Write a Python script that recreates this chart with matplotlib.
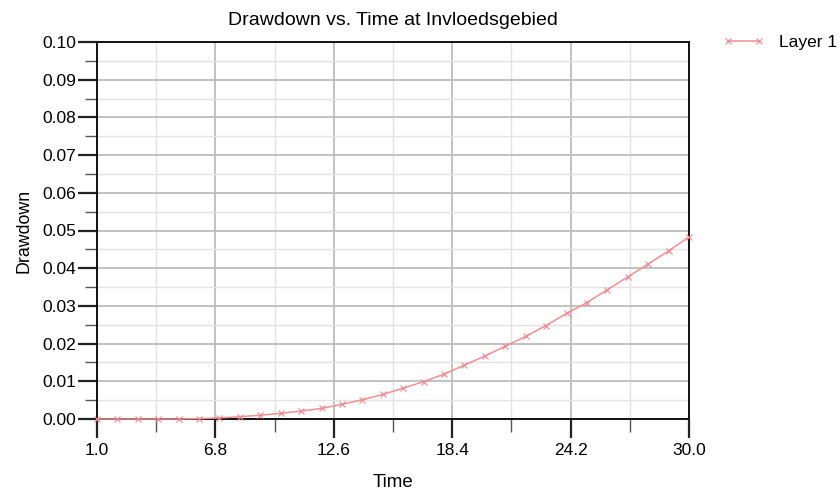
import matplotlib
matplotlib.use("Agg")
import matplotlib.pyplot as plt
from matplotlib.ticker import MultipleLocator, FixedLocator, FormatStrFormatter

plt.rcParams['font.family'] = ['Liberation Sans', 'DejaVu Sans']

time = list(range(1, 31))
drawdown = [0.0, 0.0, 0.0, 0.0, 0.0, 0.0001, 0.0003, 0.0006, 0.0010, 0.0015,
            0.0021, 0.0028, 0.0039, 0.0051, 0.0065, 0.0082, 0.0099, 0.0119,
            0.0143, 0.0167, 0.0193, 0.0219, 0.0248, 0.0280, 0.0309, 0.0343,
            0.0377, 0.0411, 0.0446, 0.0483]
x_major = [1.0, 6.8, 12.6, 18.4, 24.2, 30.0]
x_minor = [3.9, 9.7, 15.5, 21.3, 27.1]

fig = plt.figure(figsize=(8.4, 4.93), dpi=100)
ax = fig.add_axes([97/840, 1-419/493, (689-97)/840, (419-42)/493])

ax.plot(time, drawdown, color='#f29090', lw=1.1, marker='x', ms=4.0,
        mew=0.8, mec='#ec8894', label='Layer 1', zorder=3, clip_on=False)

ax.set_xlim(1, 30)
ax.set_ylim(0, 0.10)
ax.xaxis.set_major_locator(FixedLocator(x_major))
ax.xaxis.set_minor_locator(FixedLocator(x_minor))
ax.xaxis.set_major_formatter(FormatStrFormatter('%.1f'))
ax.yaxis.set_major_locator(MultipleLocator(0.01))
ax.yaxis.set_minor_locator(MultipleLocator(0.005))
ax.yaxis.set_major_formatter(FormatStrFormatter('%.2f'))

ax.grid(which='major', color='#bdbdbd', lw=1.3)
ax.grid(which='minor', color='#e3e3e3', lw=1.0)
ax.set_axisbelow(True)

ax.tick_params(which='major', length=14, width=1.6, color='#222222',
               labelsize=12.5, pad=1)
ax.tick_params(which='minor', length=9, width=1.0, color='#555555')
ax.tick_params(axis='x', which='major', pad=3)
for s in ax.spines.values():
    s.set_color('#111111')
    s.set_linewidth(1.4)

ax.set_title('Drawdown vs. Time at Invloedsgebied', fontsize=14, pad=12)
ax.set_xlabel('Time', fontsize=13.5, labelpad=12)
ax.set_ylabel('Drawdown', fontsize=12.8, labelpad=7)

fig.legend(*ax.get_legend_handles_labels(), loc='center left',
           bbox_to_anchor=(723/840, 1-42/493), frameon=False,
           borderaxespad=0, borderpad=0, numpoints=2,
           handlelength=2.4, handletextpad=0.85, fontsize=12.5)

fig.savefig('out.png', dpi=100)
